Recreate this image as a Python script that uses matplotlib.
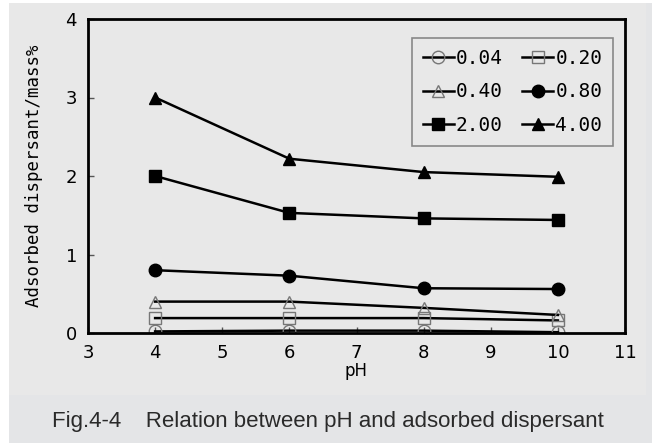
import matplotlib.pyplot as plt
from matplotlib.patches import Rectangle

# pH values and adsorbed amounts (mass%) for each added dispersant level
ph = [4, 6, 8, 10]
labels = ['0.04', '0.20', '0.40', '0.80', '2.00', '4.00']
s004 = [0.02, 0.03, 0.03, 0.01]
s020 = [0.19, 0.19, 0.19, 0.16]
s040 = [0.40, 0.40, 0.32, 0.23]
s080 = [0.80, 0.73, 0.57, 0.56]
s200 = [2.00, 1.53, 1.46, 1.44]
s400 = [3.00, 2.22, 2.05, 1.99]
series = [s004, s020, s040, s080, s200, s400]
markers = ['o', 's', '^', 'o', 's', '^']
filled = [False, False, False, True, True, True]

W, H = 657, 446
fig = plt.figure(figsize=(W / 100, H / 100), dpi=100)
fig.patch.set_facecolor('white')

# background panels
fig.patches.append(Rectangle((9 / W, 3 / H), 643 / W, 440 / H, transform=fig.transFigure,
                             facecolor='#e4e5e7', edgecolor='none', zorder=-3))
fig.patches.append(Rectangle((9 / W, 51 / H), 637 / W, 392 / H, transform=fig.transFigure,
                             facecolor='#e8e8e8', edgecolor='none', zorder=-2))

ax = fig.add_axes([88 / W, 1 - 333 / H, (625 - 88) / W, (333 - 19) / H])
ax.set_facecolor('#e8e8e8')

lines = []
for vals, lab, m, f in zip(series, labels, markers, filled):
    if f:
        ln, = ax.plot(ph, vals, color='black', lw=1.8, marker=m, markersize=9,
                      markerfacecolor='black', markeredgecolor='black', label=lab)
    else:
        ln, = ax.plot(ph, vals, color='black', lw=1.8, marker=m, markersize=9,
                      markerfacecolor='none', markeredgecolor='#777777', markeredgewidth=1.0,
                      label=lab)
    lines.append(ln)

ax.set_xlim(3, 11)
ax.set_ylim(0, 4)
ax.set_xticks(range(3, 12))
ax.set_yticks(range(0, 5))
for sp in ax.spines.values():
    sp.set_linewidth(2)
ax.tick_params(direction='in', length=4, width=1, color='#555555',
               labelsize=13, pad=8)
for t in ax.get_xticklabels() + ax.get_yticklabels():
    t.set_family(['Liberation Sans Narrow', 'DejaVu Sans'])

ax.set_xlabel('pH', fontsize=12, family=['Liberation Sans Narrow', 'DejaVu Sans'], labelpad=0)
ax.set_ylabel('Adsorbed dispersant/mass%', fontsize=12.5, family='DejaVu Sans Mono',
              labelpad=16)

# legend filled row by row: 0.04 0.20 / 0.40 0.80 / 2.00 4.00
order = [0, 2, 4, 1, 3, 5]
leg = ax.legend([lines[i] for i in order], [labels[i] for i in order],
                ncol=2, loc='upper right', bbox_to_anchor=(0.996, 0.97),
                prop={'family': 'DejaVu Sans Mono', 'size': 14},
                handlelength=1.6, handletextpad=0.1, columnspacing=1.0,
                labelspacing=0.75, borderpad=0.55, fancybox=False,
                facecolor='#e8e8e8', edgecolor='#888888', framealpha=1)
leg.get_frame().set_linewidth(1.2)

fig.text(328 / W, 1 - 421 / H, 'Fig.4-4    Relation between pH and adsorbed dispersant',
         ha='center', va='center', fontsize=16, family='Liberation Sans', color='#2a2a2a')

fig.savefig('out.png', dpi=100, facecolor=fig.get_facecolor())
